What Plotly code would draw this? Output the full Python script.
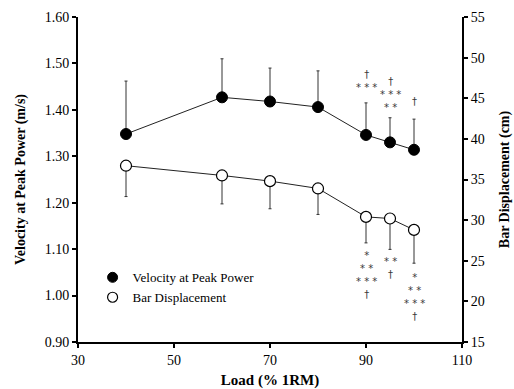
import plotly.graph_objects as go

load = [40, 60, 70, 80, 90, 95, 100]
velocity = [1.348, 1.427, 1.418, 1.406, 1.346, 1.330, 1.314]
velocity_sd = [0.114, 0.083, 0.072, 0.078, 0.069, 0.053, 0.066]
displacement = [36.7, 35.5, 34.8, 33.9, 30.4, 30.2, 28.8]
displacement_sd = [3.8, 3.5, 3.4, 3.2, 3.2, 3.8, 4.1]
# significance markers, rows listed top to bottom
top_marks = [[], [], [], [], ["†", "***"], ["†", "***", "**"], ["†"]]
bottom_marks = [[], [], [], [], ["*", "**", "***", "†"], ["**", "†"], ["*", "**", "***", "†"]]

# pixel gap between error-bar end and the marker stack (layout only)
top_gap = [0, 0, 0, 0, 8, 3, 10]
bottom_gap = [0, 0, 0, 0, 5, 5, 7]

serif = '"Liberation Serif", "Times New Roman", "DejaVu Serif", serif'
fig = go.Figure()

fig.add_trace(go.Scatter(
    x=load, y=velocity, mode="lines+markers", name="Velocity at Peak Power",
    line=dict(color="#222", width=1),
    marker=dict(symbol="circle", size=11, color="black", line=dict(color="black", width=1)),
    error_y=dict(type="data", symmetric=False, array=velocity_sd, arrayminus=[0]*len(load),
                 color="#333", thickness=1, width=1.5),
    showlegend=False))

fig.add_trace(go.Scatter(
    x=load, y=displacement, yaxis="y2", mode="lines+markers", name="Bar Displacement",
    line=dict(color="#222", width=1),
    marker=dict(symbol="circle", size=11, color="white", line=dict(color="black", width=1.2)),
    error_y=dict(type="data", symmetric=False, array=[0]*len(load), arrayminus=displacement_sd,
                 color="#333", thickness=1, width=1.5),
    showlegend=False))

# legend-only entries (markers only)
fig.add_trace(go.Scatter(x=[None], y=[None], mode="markers", name="Velocity at Peak Power",
                         marker=dict(size=10, color="black", line=dict(color="black", width=1))))
fig.add_trace(go.Scatter(x=[None], y=[None], mode="markers", name="Bar Displacement",
                         marker=dict(size=10, color="white", line=dict(color="black", width=1.2))))


def stack_text(rows):
    return "<br>".join(r if r == "†" else " ".join(r) for r in rows)


ann_font = dict(family="DejaVu Sans", size=10, color="#3a3a3a")
for x, v, sd, rows, g in zip(load, velocity, velocity_sd, top_marks, top_gap):
    if rows:
        fig.add_annotation(x=x, y=v + sd, xref="x", yref="y", text=stack_text(rows), showarrow=False,
                           yanchor="bottom", yshift=g, font=ann_font, align="center")
for x, d, sd, rows, g in zip(load, displacement, displacement_sd, bottom_marks, bottom_gap):
    if rows:
        fig.add_annotation(x=x, y=d - sd, xref="x", yref="y2", text=stack_text(rows), showarrow=False,
                           yanchor="top", yshift=-g, font=ann_font, align="center")

axis_common = dict(showline=True, linecolor="black", linewidth=2, ticks="outside",
                   ticklen=4, tickcolor="black", tickwidth=1.5, showgrid=False, zeroline=False,
                   automargin=False,
                   tickfont=dict(family=serif, size=14, color="black"))

fig.update_layout(
    width=514, height=389,
    margin=dict(l=78, r=52, t=17, b=47),
    plot_bgcolor="white", paper_bgcolor="white",
    font=dict(family=serif, size=14, color="black"),
    xaxis=dict(range=[30, 110], tickvals=[30, 50, 70, 90, 110],
               title=dict(text="<b>Load (% 1RM)</b>", font=dict(family=serif, size=15), standoff=8),
               **axis_common),
    yaxis=dict(range=[0.9, 1.6], dtick=0.1, tickformat=".2f",
               title=dict(text="<b>Velocity at Peak Power (m/s)</b>", font=dict(family=serif, size=14), standoff=16),
               **axis_common),
    yaxis2=dict(range=[15, 55], dtick=5, overlaying="y", side="right",
                title=dict(text="<b>Bar Displacement (cm)</b>", font=dict(family=serif, size=14), standoff=15),
                **axis_common),
    legend=dict(x=0.038, y=0.245, xanchor="left", yanchor="top", bgcolor="rgba(0,0,0,0)",
                font=dict(family=serif, size=13), itemwidth=30, tracegroupgap=0),
)

fig.write_html("out.html")
